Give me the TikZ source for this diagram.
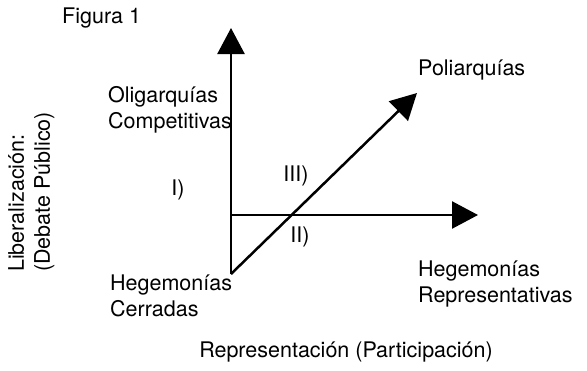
\documentclass[tikz,border=0pt]{standalone}
\usepackage{fontspec}
\setmainfont{TeX Gyre Heros}
\usetikzlibrary{arrows.meta, positioning}
\tikzset{
  axisarrow/.style={-{Triangle[length=26pt, width=27pt]}, line width=2.5pt, black},
  axisline/.style={line width=2.5pt, black},
  regime/.style={inner sep=0pt, align=left, anchor=west,
    font=\fontsize{21.5}{26}\selectfont},
}

\begin{document}
\begin{tikzpicture}[x=1pt, y=-1pt]
  \useasboundingbox (0,0) rectangle (587,370);

  \coordinate (o) at (231,274);
  \coordinate (ytip) at (231,28);
  \coordinate (hstart) at (231,215);
  \coordinate (htip) at (478,215);
  \coordinate (dtip) at (417,93);

  % axes and diagonal
  \draw[axisline] (o) -- (hstart);
  \draw[axisarrow] (hstart) -- (ytip);
  \draw[axisarrow] (hstart) -- (htip);
  \draw[axisarrow] (o) -- (dtip);

  \node[regime] (fig) at (62,18) {Figura 1};
  \node[regime] (olig) at (108,110) {Oligarquías\\Competitivas};
  \node[regime] (poli) at (418,70) {Poliarquías};
  \node[regime] (hcer) at (110,296) {Hegemonías\\Cerradas};
  \node[regime] (hrep) at (418,284) {Hegemonías\\Representativas};

  % quadrant marks
  \node[regime, anchor=center] (q1) at (178,190) {I)};
  \node[regime, anchor=center] (q3) at (296,176) {III)};
  \node[regime, anchor=center] (q2) at (300,237) {II)};

  \node[regime, anchor=center] (xlab) at (346,352) {Representación (Participación)};
  \node[regime, rotate=90, anchor=north west] (ylab) at (8,272) {Liberalización:\\(Debate Público)};
\end{tikzpicture}
\end{document}
